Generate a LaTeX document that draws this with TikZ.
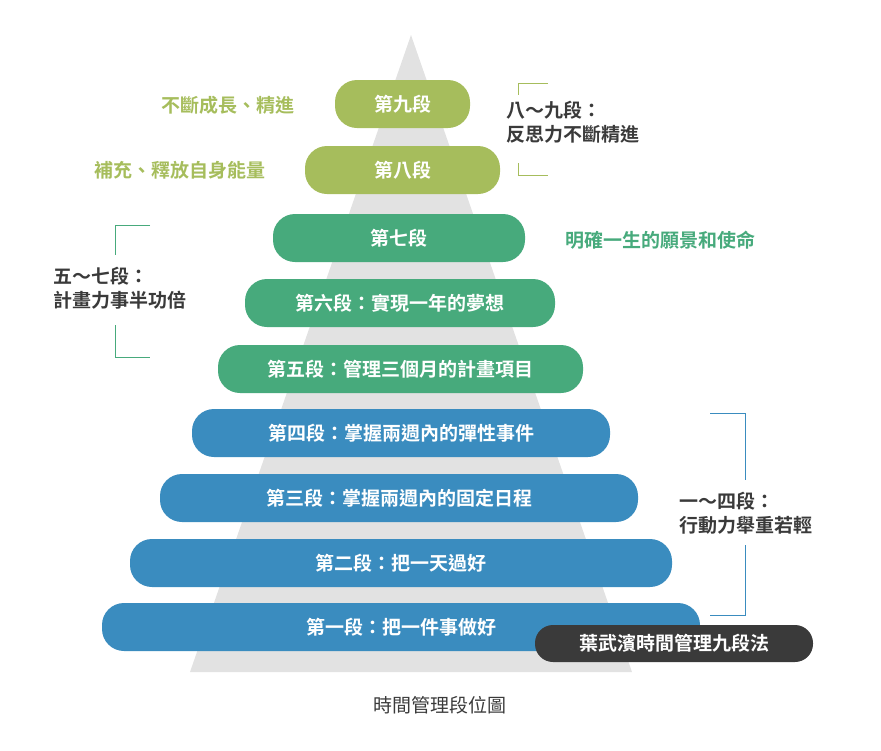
\documentclass[tikz,border=0pt]{standalone}
\usepackage{fontspec}
\setmainfont{Noto Sans CJK TC}[BoldFont={* Bold}]
\begin{document}
\begin{tikzpicture}[x=1pt,y=-1pt,
 pill/.style={rounded corners=22pt,text=white,font=\bfseries\fontsize{19}{22}\selectfont},
 lab/.style={font=\bfseries\fontsize{19}{24}\selectfont,align=left,text=darkgray}]
\definecolor{olive}{HTML}{A6BD5C}\definecolor{gr}{HTML}{47AA7C}\definecolor{bl}{HTML}{3A8CBF}
\definecolor{tri}{HTML}{E2E2E2}\definecolor{darkgray}{HTML}{3A3A3A}
\useasboundingbox (0,0) rectangle (881,750);
\fill[tri] (411,35) -- (632,672) -- (190,672) -- cycle;
\foreach \n/\a/\b/\t/\c/\s in {9/335/470/80/olive/第九段,8/305/500/146/olive/第八段,7/273/525/214/gr/第七段,6/245/555/279/gr/第六段：實現一年的夢想,5/218/583/345/gr/第五段：管理三個月的計畫項目,4/192/610/409/bl/第四段：掌握兩週內的彈性事件,3/160/638/474/bl/第三段：掌握兩週內的固定日程,2/130/672/539/bl/第二段：把一天過好,1/102/700/603/bl/第一段：把一件事做好}{
 \fill[\c,pill] (\a,\t) rectangle (\b,\t+48);
 \node[pill] (p\n) at ({(\a+\b)/2},\t+24) {\s};}
\fill[darkgray,rounded corners=18pt] (535,625) rectangle (813,662);
\node[pill] (ttl) at (674,643.5) {葉武濱時間管理九段法};
\node[text=olive,font=\bfseries\fontsize{19}{22}\selectfont] (l9) at (228,105) {不斷成長、精進};
\node[text=olive,font=\bfseries\fontsize{19}{22}\selectfont] (l8) at (180,170) {補充、釋放自身能量};
\node[text=gr,font=\bfseries\fontsize{19}{22}\selectfont] (r7) at (660,240) {明確一生的願景和使命};
\node[lab,anchor=west] (b1) at (503,122) {八～九段：\\反思力不斷精進};
\node[lab,anchor=west] (b2) at (50,288) {五～七段：\\計畫力事半功倍};
\node[lab,anchor=west] (b3) at (676,513) {一～四段：\\行動力舉重若輕};
\draw[olive,line width=1pt] (548,83) -- (518,83) -- (518,95) (518,163) -- (518,175) -- (548,175);
\draw[gr,line width=1pt] (150,225) -- (115,225) -- (115,255) (115,325) -- (115,357) -- (150,357);
\draw[bl,line width=1pt] (710,413) -- (745,413) -- (745,480) (745,545) -- (745,615) -- (710,615);
\node[text=darkgray,font=\fontsize{19}{22}\selectfont] (cap) at (440,705) {時間管理段位圖};
\end{tikzpicture}
\end{document}
